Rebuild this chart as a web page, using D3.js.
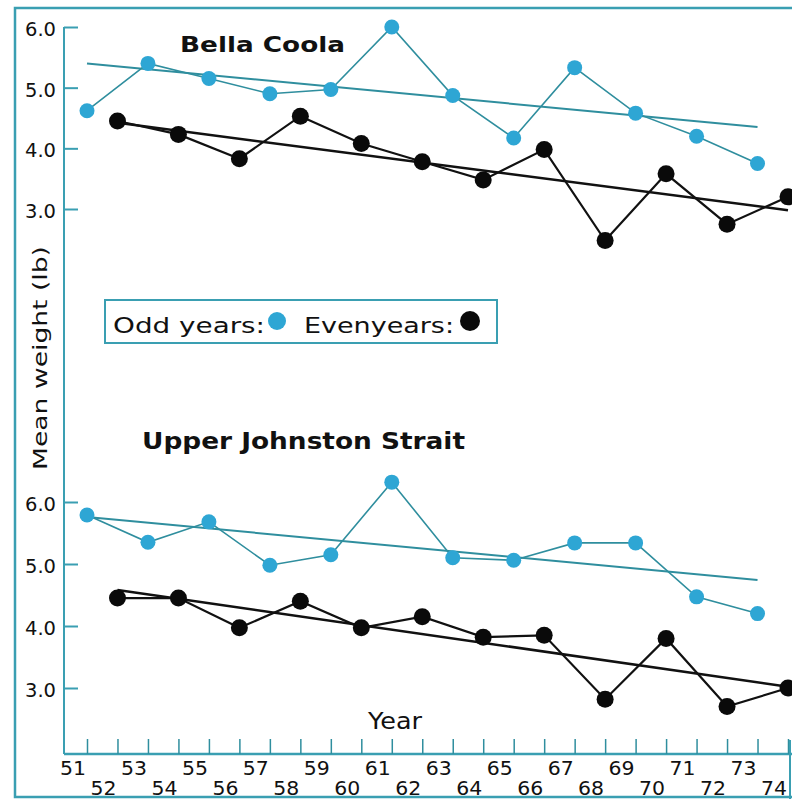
<!DOCTYPE html>
<html>
<head>
<meta charset="utf-8">
<script src="https://cdn.jsdelivr.net/npm/d3@7"></script>
<style>
  html, body { margin: 0; padding: 0; background: #fff; }
  svg { display: block; }
</style>
</head>
<body>
<svg id="chart" width="792" height="799"></svg>
<script>
// Mean weight (lb) of salmon, odd and even years, two areas
const oddYears  = [51, 53, 55, 57, 59, 61, 63, 65, 67, 69, 71, 73];
const evenYears = [52, 54, 56, 58, 60, 62, 64, 66, 68, 70, 72, 74];

const bellaOdd  = [4.62, 5.40, 5.15, 4.90, 4.97, 6.00, 4.87, 4.17, 5.33, 4.58, 4.20, 3.75];
const bellaEven = [4.45, 4.23, 3.83, 4.53, 4.08, 3.78, 3.48, 3.98, 2.48, 3.58, 2.75, 3.20];
const bellaOddTrend  = [[51, 5.40], [73, 4.35]];
const bellaEvenTrend = [[52, 4.42], [74, 2.98]];

const johnOdd  = [5.79, 5.35, 5.68, 4.98, 5.15, 6.32, 5.10, 5.06, 5.34, 5.34, 4.47, 4.20];
const johnEven = [4.45, 4.45, 3.97, 4.40, 3.97, 4.15, 3.82, 3.85, 2.82, 3.80, 2.70, 3.00];
const johnOddTrend  = [[51, 5.76], [73, 4.74]];
const johnEvenTrend = [[52, 4.58], [74, 3.02]];

const yTicks = [3, 4, 5, 6];
const xTicks = d3.range(51, 75);

const teal = "#3a9fb2";
const tealLine = "#2f8e9e";
const tealDot = "#2ea6d4";
const font = "'DejaVu Sans', sans-serif";
const tickFont = "'DejaVu Sans', sans-serif";

const svg = d3.select("#chart");

// helper: text squeezed or stretched to a fixed width
function fitText(sel, len) {
  return sel.attr("textLength", len).attr("lengthAdjust", "spacingAndGlyphs");
}

// outer frame
svg.append("rect")
  .attr("x", 15).attr("y", 8).attr("width", 790).attr("height", 789)
  .attr("fill", "none").attr("stroke", teal).attr("stroke-width", 2.5);

const x = d3.scaleLinear().domain([51, 74]).range([87, 788]);
const yTop = d3.scaleLinear().domain([3, 6]).range([209, 27]);
const yBot = d3.scaleLinear().domain([3, 6]).range([688, 502]);

// vertical axis line spanning both panels
svg.append("line")
  .attr("x1", 64).attr("x2", 64).attr("y1", 27).attr("y2", 754)
  .attr("stroke", teal).attr("stroke-width", 2);

function yAxis(scale) {
  const g = svg.append("g").attr("transform", "translate(64,0)");
  g.call(d3.axisRight(scale).tickValues(yTicks).tickSize(14).tickFormat(() => ""));
  g.select(".domain").remove();
  g.selectAll(".tick line").attr("stroke", teal).attr("stroke-width", 2);
  svg.append("g").selectAll("text").data(yTicks).join("text")
    .attr("x", 25).attr("y", d => scale(d) + 9)
    .attr("font-family", tickFont).attr("font-size", 20)
    .attr("fill", "#111")
    .attr("textLength", 31).attr("lengthAdjust", "spacingAndGlyphs")
    .text(d => d3.format(".1f")(d));
}
yAxis(yTop);
yAxis(yBot);

// x axis along the bottom
const xg = svg.append("g").attr("transform", "translate(0,754)");
xg.call(d3.axisTop(x).tickValues(xTicks).tickSize(15).tickSizeOuter(0).tickFormat(() => ""));
xg.select(".domain").attr("d", "M64,0H792").attr("stroke", teal).attr("stroke-width", 2.5);
xg.selectAll(".tick line").attr("stroke", tealLine).attr("stroke-width", 1.5);

svg.append("g").selectAll("text").data(xTicks).join("text")
  .attr("x", d => x(d) - 27)
  .attr("y", d => d % 2 ? 775 : 795)
  .attr("font-family", tickFont).attr("font-size", 20)
  .attr("fill", "#111")
  .attr("textLength", 26).attr("lengthAdjust", "spacingAndGlyphs")
  .text(d => d);

svg.append("line")
  .attr("x1", 790).attr("x2", 790).attr("y1", 740).attr("y2", 799)
  .attr("stroke", teal).attr("stroke-width", 2);

// axis titles
fitText(svg.append("text")
  .attr("x", 368).attr("y", 729)
  .attr("font-family", font).attr("font-size", 23).attr("fill", "#111"), 54)
  .text("Year");

fitText(svg.append("text")
  .attr("transform", "translate(47,358) rotate(-90)")
  .attr("text-anchor", "middle")
  .attr("font-family", font).attr("font-size", 20).attr("fill", "#111"), 224)
  .text("Mean weight (lb)");

// panel titles
fitText(svg.append("text")
  .attr("x", 180).attr("y", 52)
  .attr("font-family", font).attr("font-size", 22).attr("font-weight", "bold")
  .attr("fill", "#111"), 165)
  .text("Bella Coola");

fitText(svg.append("text")
  .attr("x", 142).attr("y", 449)
  .attr("font-family", font).attr("font-size", 23).attr("font-weight", "bold")
  .attr("fill", "#111"), 323)
  .text("Upper Johnston Strait");

function panel(yScale, odd, even, oddTrend, evenTrend) {
  const line = d3.line().x(d => x(d[0])).y(d => yScale(d[1]));
  const oddPts = oddYears.map((yr, i) => [yr, odd[i]]);
  const evenPts = evenYears.map((yr, i) => [yr, even[i]]);
  const g = svg.append("g");

  g.append("path").attr("d", line(oddTrend))
    .attr("fill", "none").attr("stroke", tealLine).attr("stroke-width", 2);
  g.append("path").attr("d", line(evenTrend))
    .attr("fill", "none").attr("stroke", "#111").attr("stroke-width", 2.5);

  g.append("path").attr("d", line(oddPts))
    .attr("fill", "none").attr("stroke", tealLine).attr("stroke-width", 1.6);
  g.append("path").attr("d", line(evenPts))
    .attr("fill", "none").attr("stroke", "#111").attr("stroke-width", 2.2);

  g.selectAll(".odd").data(oddPts).join("circle")
    .attr("cx", d => x(d[0])).attr("cy", d => yScale(d[1])).attr("r", 7.5)
    .attr("fill", tealDot);
  g.selectAll(".even").data(evenPts).join("circle")
    .attr("cx", d => x(d[0])).attr("cy", d => yScale(d[1])).attr("r", 8.5)
    .attr("fill", "#0a0a0a");
}
panel(yTop, bellaOdd, bellaEven, bellaOddTrend, bellaEvenTrend);
panel(yBot, johnOdd, johnEven, johnOddTrend, johnEvenTrend);

// legend
const lg = svg.append("g");
lg.append("rect")
  .attr("x", 105).attr("y", 300).attr("width", 392).attr("height", 43)
  .attr("fill", "#fff").attr("stroke", teal).attr("stroke-width", 2);
fitText(lg.append("text")
  .attr("x", 113).attr("y", 333)
  .attr("font-family", font).attr("font-size", 22).attr("fill", "#111"), 152)
  .text("Odd years:");
lg.append("circle").attr("cx", 277).attr("cy", 321).attr("r", 9).attr("fill", tealDot);
fitText(lg.append("text")
  .attr("x", 304).attr("y", 333)
  .attr("font-family", font).attr("font-size", 22).attr("fill", "#111"), 150)
  .text("Evenyears:");
lg.append("circle").attr("cx", 470).attr("cy", 321).attr("r", 10).attr("fill", "#0a0a0a");
</script>
</body>
</html>
